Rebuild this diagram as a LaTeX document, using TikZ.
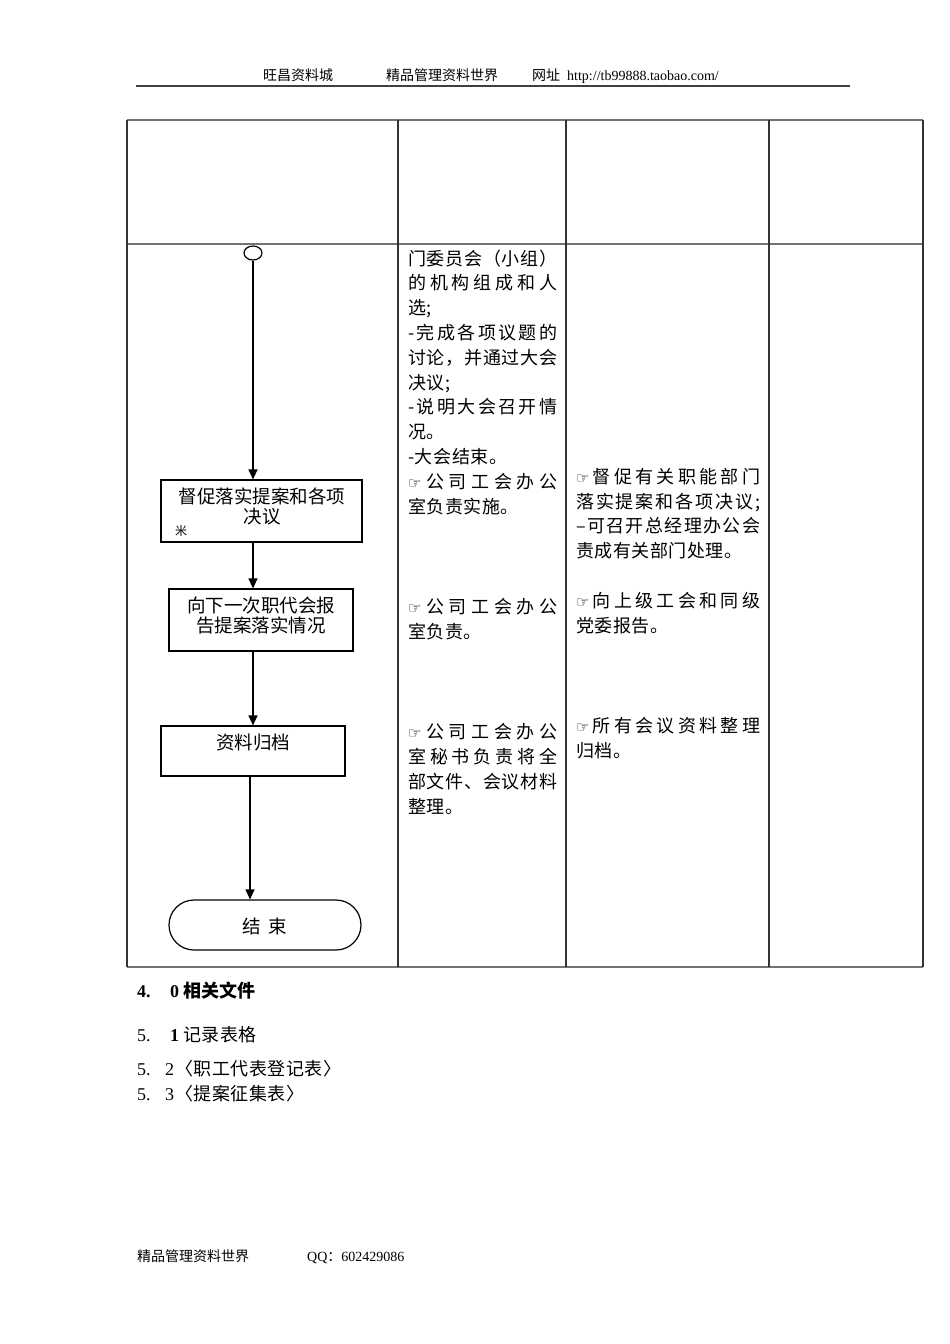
\documentclass[tikz,border=0pt]{standalone}
\usepackage{fontspec}
\setmainfont{Liberation Serif}
\newfontfamily\cjk{Noto Sans CJK SC}
\newfontfamily\cjks[LetterSpace=3]{Noto Sans CJK SC}
\newfontfamily\sym{DejaVu Sans}
\usetikzlibrary{arrows.meta,shapes.geometric,shapes.misc}
\makeatletter
\newcommand\jl[2]{\makebox[#1pt][s]{\@tfor\jx:=#2\do{\jx\hfil}\unskip}}
\makeatother
\newcommand\pnt{{\sym\fontsize{15}{15}\selectfont\char"261E}}
\newcommand\tline[4]{\node[txt] (#1) at (#2,#3) {#4};}
\tikzset{
  txt/.style={anchor=base west, inner sep=0pt, font=\cjks\fontsize{18}{18}\selectfont},
  boxtxt/.style={anchor=base, inner sep=0pt, font=\cjk\fontsize{18.5}{18.5}\selectfont},
  hdr/.style={anchor=base west, inner sep=0pt, font=\cjk\fontsize{14}{14}\selectfont},
  stepbox/.style={draw=black, line width=1.2pt, rectangle, inner sep=0pt},
  flow/.style={draw=black, line width=1.2pt, -{Triangle[length=10pt,width=9pt]}},
  vline/.style={draw=black!80, line width=1.3pt},
  hline/.style={draw=black!55, line width=1.3pt},
}
\begin{document}
\begin{tikzpicture}[x=1pt,y=-1pt]
\useasboundingbox (0,0) rectangle (950,1344);
% header
\node[hdr] (h1) at (263,80) {旺昌资料城};
\node[hdr] (h2) at (386,80) {精品管理资料世界};
\node[hdr] (h3) at (532,80) {网址};
\node[anchor=base west, inner sep=0pt, font=\fontsize{14}{14}\selectfont] (h4) at (567,80) {http://tb99888.taobao.com/};
\draw[line width=2pt, black!75] (136,86) -- (850,86);
% table
\draw[hline] (127,120) -- (923,120);
\draw[hline] (127,244) -- (923,244);
\draw[hline] (127,967) -- (923,967);
\foreach \xx in {127,398,566,769,923} \draw[vline] (\xx,120) -- (\xx,967);
% flowchart
\node[draw=black, line width=1.2pt, ellipse, minimum width=18pt, minimum height=14pt, inner sep=0pt] (start) at (253,253) {};
\node[stepbox, minimum width=201pt, minimum height=62pt] (b1) at (261.5,511) {};
\node[boxtxt] (b1t1) at (262,503) {督促落实提案和各项};
\node[boxtxt] (b1t2) at (262,523) {决议};
\node[boxtxt, font=\cjk\fontsize{12}{12}\selectfont] (b1m) at (181,535) {米};
\node[stepbox, minimum width=184pt, minimum height=62pt] (b2) at (261,620) {};
\node[boxtxt] (b2t1) at (261,612) {向下一次职代会报};
\node[boxtxt] (b2t2) at (261,632) {告提案落实情况};
\node[stepbox, minimum width=184pt, minimum height=50pt] (b3) at (253,751) {};
\node[boxtxt] (b3t) at (253,749) {资料归档};
\node[draw=black, line width=1.2pt, rounded rectangle, minimum width=192pt, minimum height=50pt, inner sep=0pt] (end) at (265,925) {};
\node[boxtxt] (endt) at (265,933) {结\hspace{8pt}束};
\coordinate (ax) at (250,0);
\draw[flow] (start.south) -- (start.south |- b1.north);
\draw[flow] (b1.south -| start) -- (b2.north -| start);
\draw[flow] (b2.south -| start) -- (b3.north -| start);
\draw[flow] (b3.south -| ax) -- (end.north -| ax);
% column 2
\tline{c2a}{408}{265}{\jl{149}{门委员会（小组）}}
\tline{c2b}{408}{289.8}{\jl{149}{的机构组成和人}}
\tline{c2c}{408}{314.6}{选;}
\tline{c2d}{408}{339.4}{\jl{149}{-完成各项议题的}}
\tline{c2e}{408}{364.2}{\jl{149}{讨论，并通过大会}}
\tline{c2f}{408}{389}{决议;}
\tline{c2g}{408}{413.8}{\jl{149}{-说明大会召开情}}
\tline{c2h}{408}{438.6}{况。}
\tline{c2i}{408}{463.4}{-大会结束。}
\tline{c2j}{408}{488.2}{\jl{149}{\pnt 公司工会办公}}
\tline{c2k}{408}{513}{室负责实施。}
\tline{c2l}{408}{613}{\jl{149}{\pnt 公司工会办公}}
\tline{c2m}{408}{638}{室负责。}
\tline{c2n}{408}{738}{\jl{149}{\pnt 公司工会办公}}
\tline{c2o}{408}{763}{\jl{149}{室秘书负责将全}}
\tline{c2p}{408}{788}{\jl{149}{部文件、会议材料}}
\tline{c2q}{408}{813}{整理。}
% column 3
\tline{c3a}{576}{483}{\jl{184}{\pnt 督促有关职能部门}}
\tline{c3b}{576}{508}{\jl{184}{落实提案和各项决议;}}
\tline{c3c}{576}{532}{\jl{184}{–可召开总经理办公会}}
\tline{c3d}{576}{557}{责成有关部门处理。}
\tline{c3e}{576}{607}{\jl{184}{\pnt 向上级工会和同级}}
\tline{c3f}{576}{632}{党委报告。}
\tline{c3g}{576}{732}{\jl{184}{\pnt 所有会议资料整理}}
\tline{c3h}{576}{757}{归档。}
% related documents
\node[anchor=base west, inner sep=0pt, font=\bfseries\fontsize{18}{18}\selectfont] (r1a) at (137,997) {4.};
\node[anchor=base west, inner sep=0pt, font=\bfseries\fontsize{18}{18}\selectfont] (r1b) at (170,997) {0};
\node[txt, font=\cjk\bfseries\fontsize{18}{18}\selectfont] (r1c) at (183,997) {相关文件};
\node[anchor=base west, inner sep=0pt, font=\fontsize{18}{18}\selectfont] (r2a) at (137,1041) {5.};
\node[anchor=base west, inner sep=0pt, font=\bfseries\fontsize{18}{18}\selectfont] (r2b) at (170,1041) {1};
\node[txt] (r2c) at (183,1041) {记录表格};
\node[anchor=base west, inner sep=0pt, font=\fontsize{18}{18}\selectfont] (r3a) at (137,1075) {5.};
\node[anchor=base west, inner sep=0pt, font=\fontsize{18}{18}\selectfont] (r3b) at (165,1075) {2};
\node[txt] (r3c) at (175,1075) {〈职工代表登记表〉};
\node[anchor=base west, inner sep=0pt, font=\fontsize{18}{18}\selectfont] (r4a) at (137,1100) {5.};
\node[anchor=base west, inner sep=0pt, font=\fontsize{18}{18}\selectfont] (r4b) at (165,1100) {3};
\node[txt] (r4c) at (175,1100) {〈提案征集表〉};
% footer
\node[hdr] (f1) at (137,1261) {精品管理资料世界};
\node[anchor=base west, inner sep=0pt, font=\fontsize{14}{14}\selectfont] (f2) at (307,1261) {QQ{\cjk ：}602429086};
\end{tikzpicture}
\end{document}
